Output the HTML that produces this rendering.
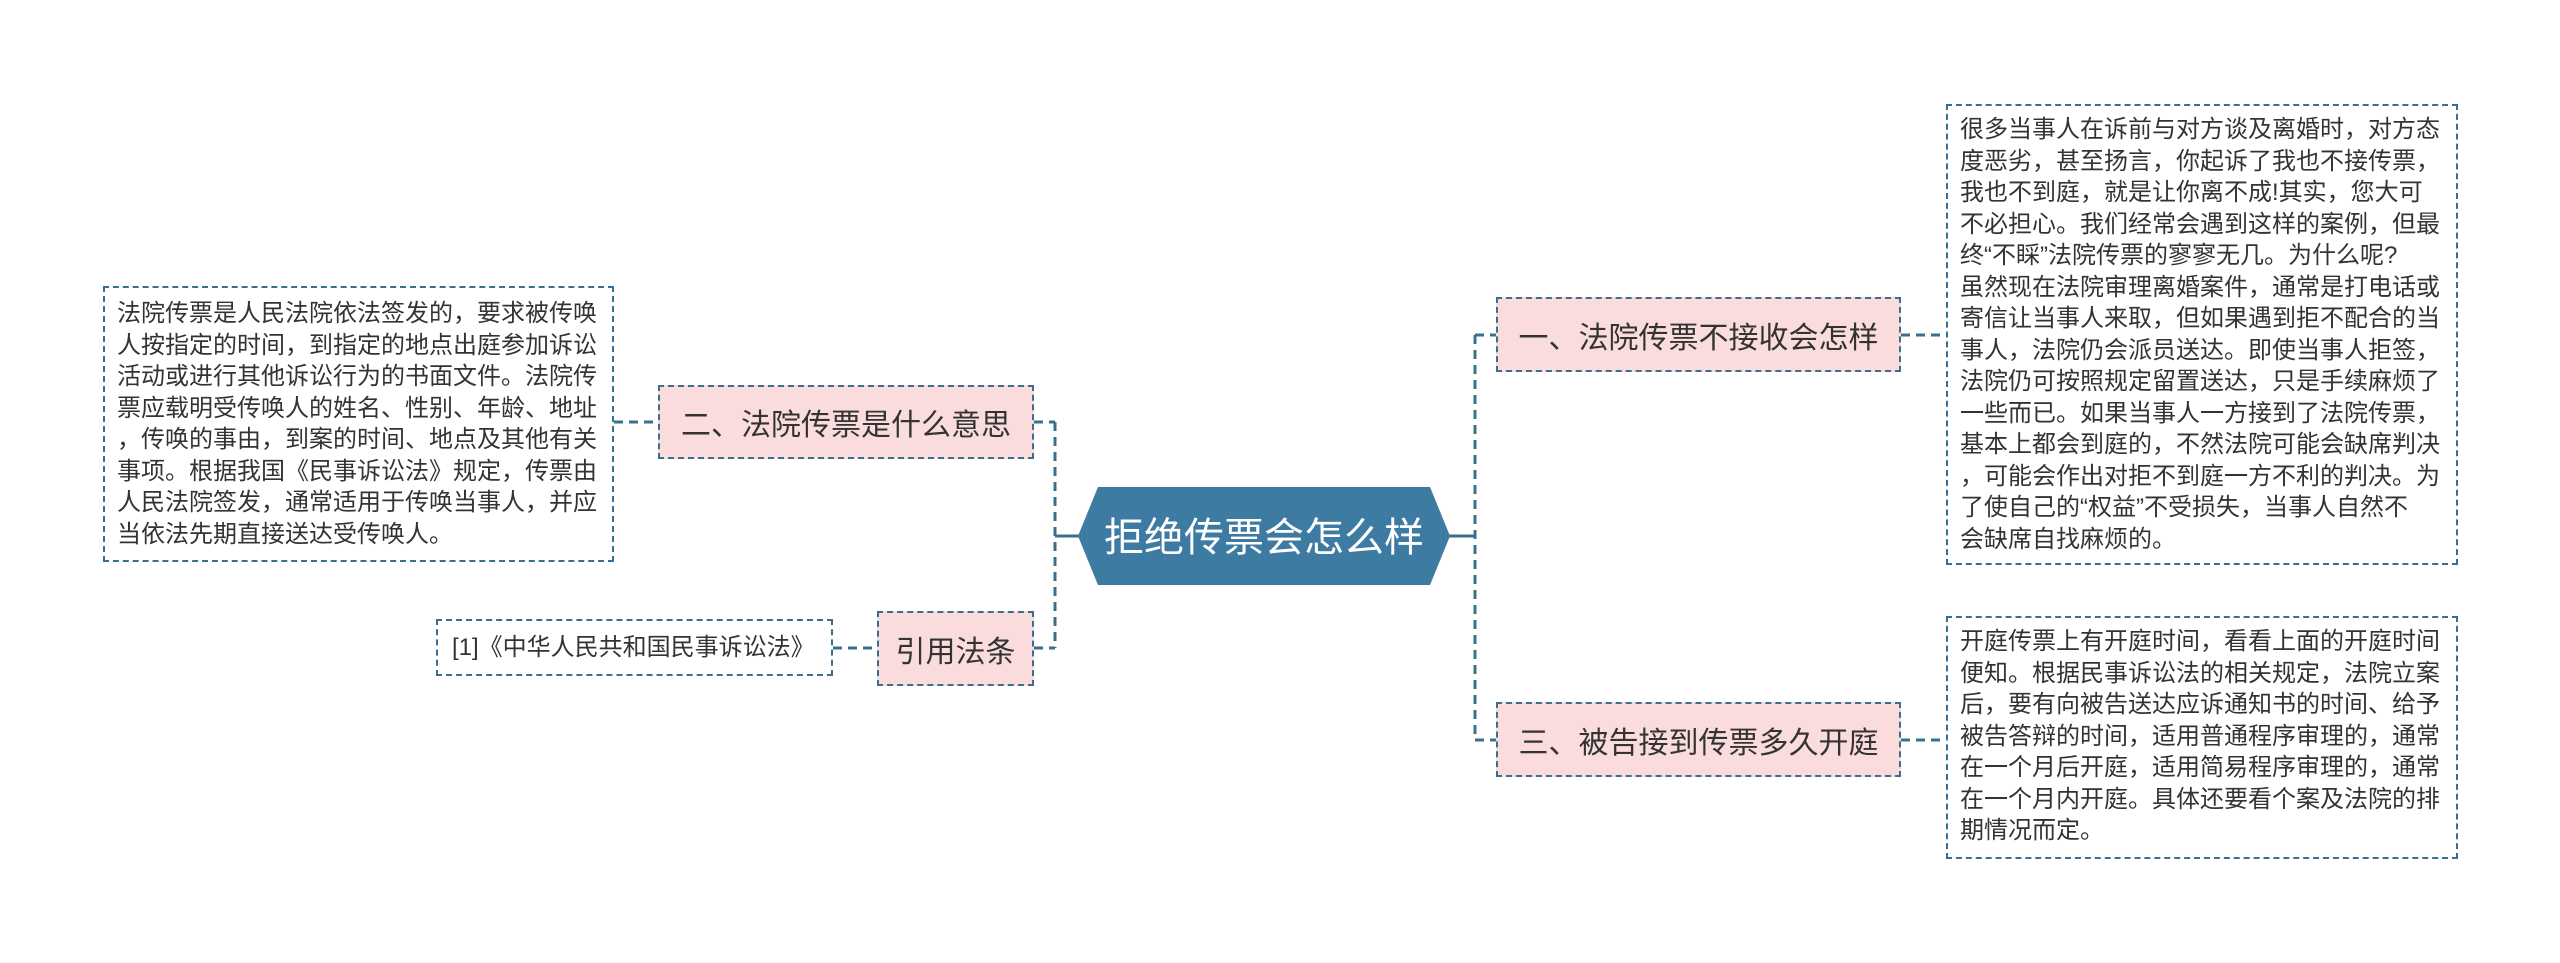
<!DOCTYPE html>
<html><head><meta charset="utf-8"><style>
body{margin:0;width:2560px;height:963px;background:#fff;position:relative;overflow:hidden;font-family:"Liberation Sans","Noto Sans CJK SC",sans-serif;color:#333}
.b{position:absolute;box-sizing:border-box;border:2px dashed #3a6f8f}
.n{background:#fbdcdc;font-size:30px;display:flex;align-items:center;justify-content:center;white-space:nowrap}
.t{background:#fff;font-size:24px;line-height:31.5px;padding:8px 0 0 12px;white-space:nowrap}
</style></head><body>
<svg width="2560" height="963" style="position:absolute;left:0;top:0">
<g stroke="#3a6f8f" stroke-width="3" fill="none" stroke-dasharray="9,6">
<path d="M1055 422 V648 M1034 422 H1055 M1034 648 H1055 M614 422 H658 M833 648 H877"/>
<path d="M1475 335 V740 M1475 335 H1496 M1475 740 H1496 M1901 335 H1946 M1901 740 H1946"/>
</g>
<path d="M1055 536 H1082 M1446 536 H1475" stroke="#3a6f8f" stroke-width="3"/>
<polygon points="1078,536 1098,487 1430,487 1450,536 1430,585 1098,585" fill="#3d7ba3"/>
<text x="1264" y="551" text-anchor="middle" font-size="40" fill="#fff" font-family="Liberation Sans,Noto Sans CJK SC,sans-serif">拒绝传票会怎么样</text>
</svg>
<div class="b n" style="left:1496px;top:297px;width:405px;height:75px">一、法院传票不接收会怎样</div>
<div class="b n" style="left:1496px;top:702px;width:405px;height:75px">三、被告接到传票多久开庭</div>
<div class="b n" style="left:658px;top:385px;width:376px;height:74px">二、法院传票是什么意思</div>
<div class="b n" style="left:877px;top:611px;width:157px;height:75px">引用法条</div>
<div class="b t" style="left:1946px;top:104px;width:512px;height:461px">很多当事人在诉前与对方谈及离婚时，对方态<br>度恶劣，甚至扬言，你起诉了我也不接传票，<br>我也不到庭，就是让你离不成!其实，您大可<br>不必担心。我们经常会遇到这样的案例，但最<br>终“不睬”法院传票的寥寥无几。为什么呢?<br>虽然现在法院审理离婚案件，通常是打电话或<br>寄信让当事人来取，但如果遇到拒不配合的当<br>事人，法院仍会派员送达。即使当事人拒签，<br>法院仍可按照规定留置送达，只是手续麻烦了<br>一些而已。如果当事人一方接到了法院传票，<br>基本上都会到庭的，不然法院可能会缺席判决<br>，可能会作出对拒不到庭一方不利的判决。为<br>了使自己的“权益”不受损失，当事人自然不<br>会缺席自找麻烦的。</div>
<div class="b t" style="left:1946px;top:616px;width:512px;height:243px">开庭传票上有开庭时间，看看上面的开庭时间<br>便知。根据民事诉讼法的相关规定，法院立案<br>后，要有向被告送达应诉通知书的时间、给予<br>被告答辩的时间，适用普通程序审理的，通常<br>在一个月后开庭，适用简易程序审理的，通常<br>在一个月内开庭。具体还要看个案及法院的排<br>期情况而定。</div>
<div class="b t" style="left:103px;top:286px;width:511px;height:276px;padding-top:10px">法院传票是人民法院依法签发的，要求被传唤<br>人按指定的时间，到指定的地点出庭参加诉讼<br>活动或进行其他诉讼行为的书面文件。法院传<br>票应载明受传唤人的姓名、性别、年龄、地址<br>，传唤的事由，到案的时间、地点及其他有关<br>事项。根据我国《民事诉讼法》规定，传票由<br>人民法院签发，通常适用于传唤当事人，并应<br>当依法先期直接送达受传唤人。</div>
<div class="b t" style="left:436px;top:619px;width:397px;height:57px;padding:0 0 0 14px;line-height:53px">[1]《中华人民共和国民事诉讼法》</div>
</body></html>
